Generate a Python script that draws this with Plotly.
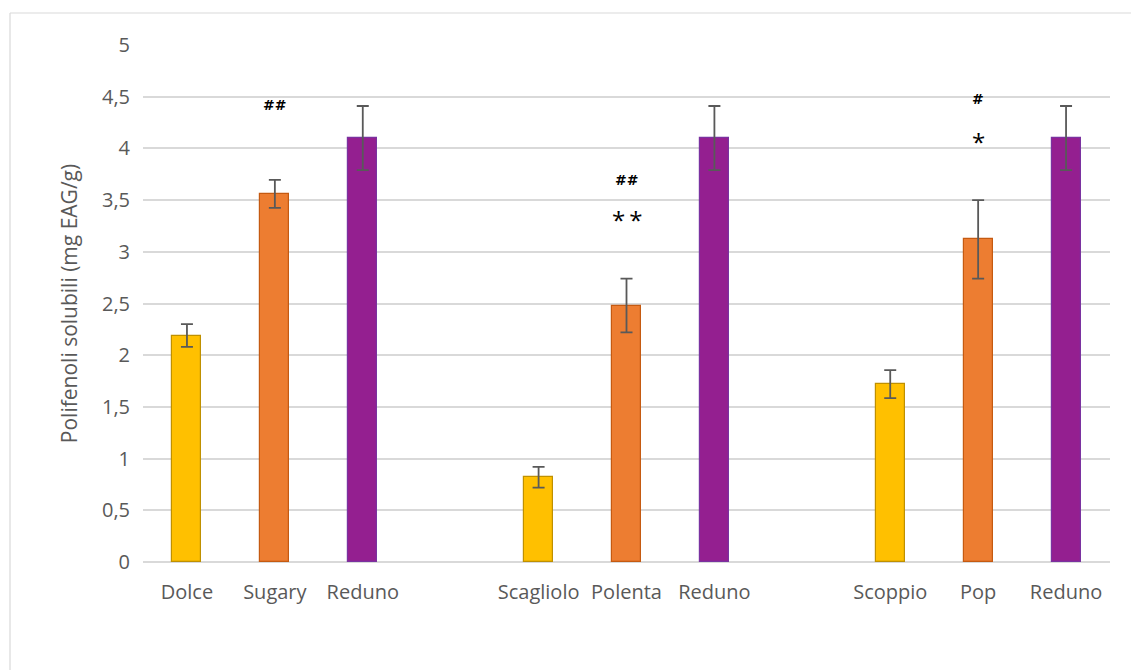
import plotly.graph_objects as go

# Soluble polyphenols per variety, three groups with a gap between them
categories = ["Dolce", "Sugary", "Reduno", "Scagliolo", "Polenta", "Reduno", "Scoppio", "Pop", "Reduno"]
slots = [0, 1, 2, 4, 5, 6, 8, 9, 10]
values = [2.19, 3.56, 4.10, 0.82, 2.48, 4.10, 1.72, 3.12, 4.10]
errors = [0.11, 0.135, 0.31, 0.10, 0.26, 0.31, 0.135, 0.38, 0.31]
kinds = ["base", "sweet", "ref", "base", "sweet", "ref", "base", "sweet", "ref"]

y_ticks = [0, 0.5, 1, 1.5, 2, 2.5, 3, 3.5, 4, 4.5, 5]
y_tick_text = ["0", "0,5", "1", "1,5", "2", "2,5", "3", "3,5", "4", "4,5", "5"]

# significance marks: slot, height, text, font size
marks_slot = [1, 5, 5, 9, 9]
marks_y = [4.42, 3.69, 3.31, 4.48, 4.07]
marks_text = ["<b>##</b>", "<b>##</b>", "*\u2009*", "<b>#</b>", "*"]
marks_size = [14, 14, 24, 14, 24]
marks_font = ["DejaVu Sans", "DejaVu Sans", "Open Sans", "DejaVu Sans", "Open Sans"]

fill = {"base": "#FFC000", "sweet": "#ED7D31", "ref": "#941F90"}
edge = {"base": "#BF9000", "sweet": "#C55A11", "ref": "#7A32A0"}

fig = go.Figure(
    go.Bar(
        x=slots,
        y=values,
        width=0.33,
        marker=dict(
            color=[fill[k] for k in kinds],
            line=dict(color=[edge[k] for k in kinds], width=1.2),
        ),
        error_y=dict(type="data", array=errors, visible=True,
                     color="#595959", thickness=1.8, width=6),
        hoverinfo="skip",
    )
)

for s, y, t, sz, fam in zip(marks_slot, marks_y, marks_text, marks_size, marks_font):
    fig.add_annotation(x=s, y=y, text=t, showarrow=False,
                       font=dict(family=fam, size=sz, color="#000000"),
                       xanchor="center", yanchor="middle")

L, R, T, B = 143, 21, 45, 108
W, H = 1131, 670
pw, ph = W - L - R, H - T - B

def px_x(px):
    return (px - L) / pw

def px_y(py):
    return (H - B - py) / ph

border = "#D9D9D9"
fig.add_shape(type="line", xref="paper", yref="paper",
              x0=px_x(10), x1=px_x(10), y0=px_y(13), y1=px_y(675),
              line=dict(color=border, width=1.2))
fig.add_shape(type="line", xref="paper", yref="paper",
              x0=px_x(10), x1=px_x(1135), y0=px_y(13), y1=px_y(13),
              line=dict(color=border, width=1.2))

fig.update_layout(
    width=W, height=H,
    margin=dict(l=L, r=R, t=T, b=B),
    paper_bgcolor="white", plot_bgcolor="white",
    showlegend=False,
    font=dict(family="Open Sans", color="#595959"),
    bargap=0,
)
fig.update_xaxes(
    range=[-0.5, 10.5],
    tickmode="array", tickvals=slots, ticktext=categories,
    tickfont=dict(size=20, color="#595959"),
    showgrid=False, zeroline=False, showline=False,
    ticks="", ticklabelstandoff=16,
)
fig.update_yaxes(
    range=[0, 5],
    tickmode="array", tickvals=y_ticks, ticktext=y_tick_text,
    tickfont=dict(size=20, color="#595959"),
    showgrid=True, gridcolor="#D9D9D9", gridwidth=1.6,
    zeroline=True, zerolinecolor="#D9D9D9", zerolinewidth=1.6,
    showline=False, ticks="", ticklabelstandoff=12,
    title=dict(text="Polifenoli solubili (mg EAG/g)",
               font=dict(size=21, color="#595959"), standoff=18),
)

fig.write_html("out.html")
